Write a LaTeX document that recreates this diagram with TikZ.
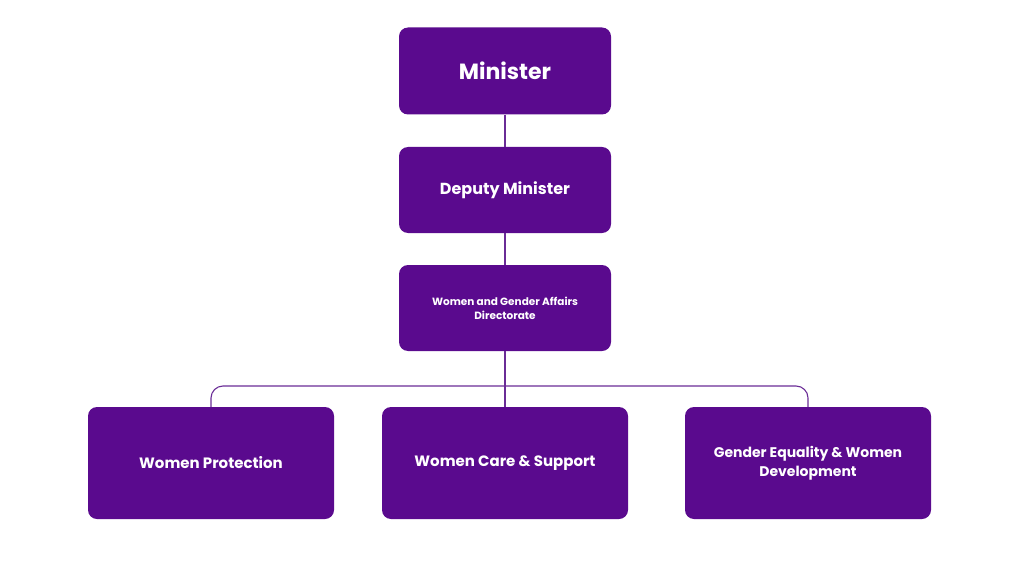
\documentclass[tikz,border=0pt]{standalone}
\usepackage{fontspec}
\setmainfont{Poppins}
\definecolor{boxc}{HTML}{5A0A8E}
\definecolor{linec}{HTML}{6A2C96}
\begin{document}
\begin{tikzpicture}[x=1pt,y=-1pt,
  box/.style={draw=none,fill=boxc,rounded corners=9pt,text=white,align=center,font=\bfseries},
  conn/.style={draw=linec,line width=1.1pt}]
\useasboundingbox (0,0) rectangle (1024,580);
\node[box,minimum width=212pt,minimum height=87pt,font=\bfseries\fontsize{22}{26}\selectfont] (min) at (505,71) {Minister};
\node[box,minimum width=212pt,minimum height=86pt,font=\bfseries\fontsize{16}{20}\selectfont] (dep) at (505,190) {Deputy Minister};
\node[box,minimum width=212pt,minimum height=86pt,font=\bfseries\fontsize{10.5}{14}\selectfont] (dir) at (505,308) {Women and Gender Affairs\\Directorate};
\node[box,minimum width=246pt,minimum height=112pt,font=\bfseries\fontsize{15}{19}\selectfont] (wp) at (211,463) {Women Protection};
\node[box,minimum width=246pt,minimum height=112pt,font=\bfseries\fontsize{15}{19}\selectfont] (wc) at (505,463) {Women Care \& Support};
\node[box,minimum width=246pt,minimum height=112pt,font=\bfseries\fontsize{14}{19}\selectfont] (ge) at (808,463) {Gender Equality \& Women\\Development};
\begin{scope}[on background layer/.style={}]
\draw[conn] (min.south) -- (dep.north);
\draw[conn] (dep.south) -- (dir.north);
\draw[conn] (dir.south) -- (wc.north);
\draw[conn,rounded corners=12pt] (wp.north) |- (505,386) -| (ge.north);
\end{scope}
\end{tikzpicture}
\end{document}
